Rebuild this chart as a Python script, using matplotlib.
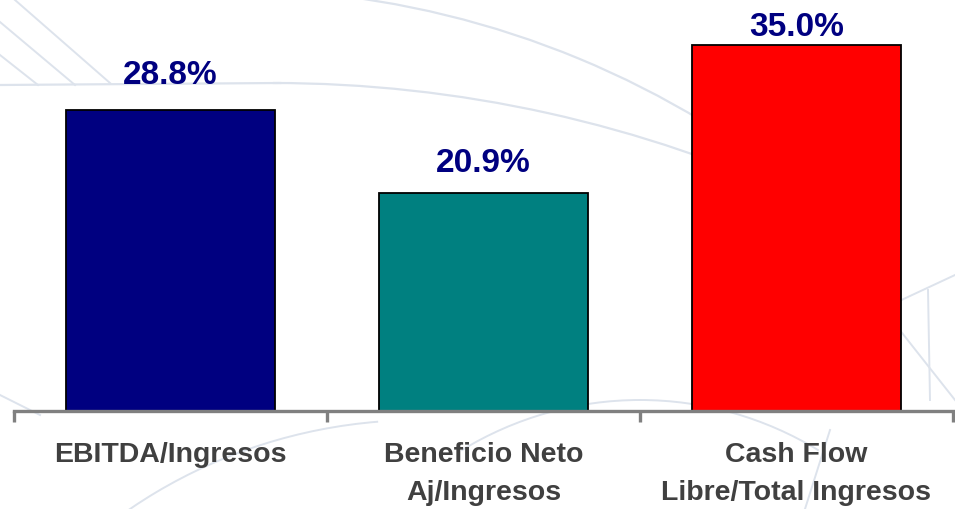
import matplotlib
matplotlib.use("Agg")
import matplotlib.pyplot as plt
from matplotlib.patches import Arc

categories = ["EBITDA/Ingresos", "Beneficio Neto\nAj/Ingresos", "Cash Flow\nLibre/Total Ingresos"]
values = [28.8, 20.9, 35.0]
colors = ["#000080", "#008080", "#FF0000"]
label_gap = [2.5, 2.0, 0.9]   # space between bar top and its value label

plt.rcParams["font.family"] = ["Liberation Sans", "DejaVu Sans"]

fig = plt.figure(figsize=(9.55, 5.09), dpi=100)
fig.patch.set_facecolor("white")

# faint globe watermark in the background (pixel coords, y down)
bg = fig.add_axes([0, 0, 1, 1], zorder=0)
bg.set_xlim(0, 955)
bg.set_ylim(509, 0)
bg.axis("off")
line_c = "#dde3ec"
bg.add_patch(Arc((229, 903), 1828, 1828, theta1=-85, theta2=-50, color=line_c, lw=1.6))
bg.add_patch(Arc((273, 1354), 2542, 2542, theta1=-90, theta2=-65, color=line_c, lw=1.6))
bg.plot([0, 280], [85, 83], color=line_c, lw=1.6)
bg.plot([15, 110], [0, 83], color=line_c, lw=1.4)
bg.plot([0, 75], [22, 85], color=line_c, lw=1.4)
bg.plot([0, 38], [55, 85], color=line_c, lw=1.4)
bg.plot([0, 40], [395, 415], color=line_c, lw=1.4)
bg.add_patch(Arc((420, 900), 1000, 960, theta1=-150, theta2=-95, color=line_c, lw=1.4))
bg.add_patch(Arc((640, 760), 700, 720, theta1=-120, theta2=-60, color=line_c, lw=1.4))
bg.plot([880, 955], [310, 275], color=line_c, lw=1.4)
bg.plot([880, 955], [305, 400], color=line_c, lw=1.4)
bg.plot([928, 930], [290, 400], color=line_c, lw=1.4)
bg.plot([830, 805], [430, 509], color=line_c, lw=1.4)

ax = fig.add_axes([0.01466, 0.1925, 0.9832, 0.780], zorder=1)
ax.patch.set_alpha(0)
x = list(range(len(values)))
ax.bar(x, values, width=0.67, color=colors, edgecolor="black", linewidth=1.3)

for xi, v, g in zip(x, values, label_gap):
    ax.text(xi, v + g, f"{v:.1f}%", ha="center", va="baseline", fontsize=24,
            fontweight="bold", color="#000080")

ax.set_xlim(-0.5, 2.5)
ax.set_ylim(0, 38)
for s in ("top", "right", "left"):
    ax.spines[s].set_visible(False)
ax.spines["bottom"].set_color("#808080")
ax.spines["bottom"].set_linewidth(2.4)
ax.set_yticks([])
ax.set_xticks([-0.5, 0.5, 1.5, 2.5])
ax.set_xticklabels([])
ax.tick_params(axis="x", which="major", direction="out", length=8, width=2.4, color="#808080")
ax.set_xticks(x, minor=True)
ax.set_xticklabels(categories, minor=True, fontsize=20.5, fontweight="bold", color="#404040",
                   linespacing=1.62)
ax.tick_params(axis="x", which="minor", length=0, pad=22)

fig.savefig("out.png", dpi=100, facecolor="white")
